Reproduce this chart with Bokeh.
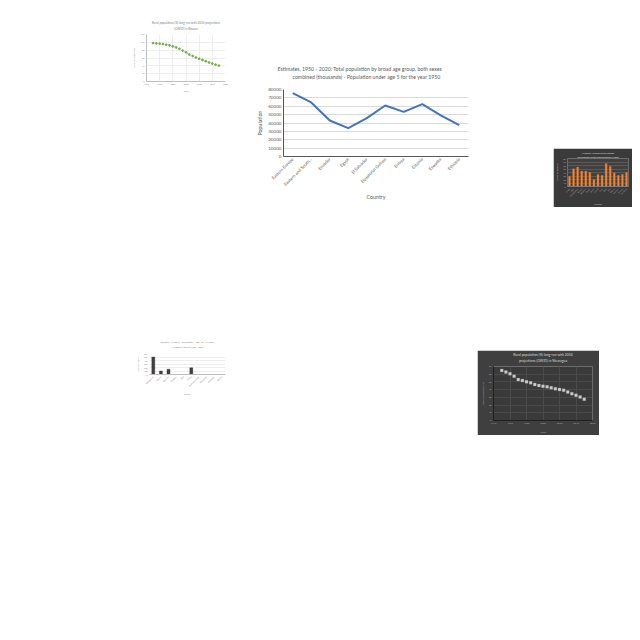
import math
from bokeh.plotting import figure
from bokeh.layouts import row, column
from bokeh.models import Spacer, Title, FixedTicker, Range1d
from bokeh.embed import file_html
from bokeh.resources import INLINE

FONT = "Lato"

# ---- main chart data ----
countries = ["Eastern Europe", "Eastern and South...", "Ecuador", "Egypt", "El Salvador",
             "Equatorial Guinea", "Eritrea", "Estonia", "Eswatini", "Ethiopia"]
population = [75600, 64500, 43000, 33800, 45800, 60900, 53300, 62500, 49000, 37400]
pop_ticks = [0, 10000, 20000, 30000, 40000, 50000, 60000, 70000, 80000]

# ---- Bhutan rural population ----
bhutan_years = [1950, 1955, 1960, 1965, 1970, 1975, 1980, 1985, 1990, 1995, 2000,
                2005, 2010, 2015, 2020, 2025, 2030, 2035, 2040, 2045, 2050]
bhutan_rural = [97.9, 97.3, 96.6, 95.6, 93.9, 92.3, 89.7, 87.0, 83.5, 79.0, 74.6,
                69.0, 65.2, 61.1, 58.2, 55.0, 51.7, 48.6, 45.8, 43.1, 40.6]
year_ticks = [1940, 1960, 1980, 2000, 2020, 2040, 2060]
bhutan_yticks = [0, 20, 40, 60, 80, 100, 120]

# ---- Air quality bars ----
aq_counties = ["Adams", "Allen", "Bartholomew", "Benton", "Blackford", "Boone", "Brown",
               "Carroll", "Cass", "Clark", "Clay", "Clinton", "Crawford", "Daviess", "Dearborn"]
aq_values = [29, 51, 56, 44, 44, 41, 20, 35, 32, 66, 58, 39, 32, 35, 41]
aq_ticks = [0, 10, 20, 30, 40, 50, 60, 70, 80]

# ---- Malaria deaths bars ----
mal_countries = ["Madagascar", "Malawi", "Malaysia", "Maldives", "Mali", "Malta",
                 "Marshall Islands", "Mauritania", "Mauritius", "Mexico"]
mal_deaths = [497, 103, 152, 0, 0, 193, 0, 0, 0, 0]
mal_ticks = [0, 100, 200, 300, 400, 500, 600]

# ---- Nicaragua rural population ----
nic_years = [1950, 1955, 1960, 1965, 1970, 1975, 1980, 1985, 1990, 1995, 2000,
             2005, 2010, 2015, 2020, 2025, 2030, 2035, 2040, 2045, 2050]
nic_rural = [64.9, 62.8, 60.7, 57.3, 53.0, 51.8, 50.1, 48.8, 46.7, 45.4, 44.5,
             43.7, 42.4, 41.2, 40.3, 39.1, 36.9, 34.8, 32.7, 30.5, 27.6]
nic_yticks = [0, 10, 20, 30, 40, 50, 60, 70]


def style_axes(p, color, tick_size, label_size):
    for ax in (p.xaxis[0], p.yaxis[0]):
        ax.major_label_text_font = FONT
        ax.major_label_text_font_size = tick_size
        ax.major_label_text_color = color
        ax.axis_label_text_font = FONT
        ax.axis_label_text_font_size = label_size
        ax.axis_label_text_color = color
        ax.axis_label_text_font_style = "normal"
        ax.major_tick_line_color = None
        ax.minor_tick_line_color = None
        ax.major_tick_out = 0
        ax.major_tick_in = 0
        ax.minor_tick_out = 0
        ax.minor_tick_in = 0
        ax.major_label_standoff = 2
        ax.axis_label_standoff = 2


def add_titles(p, lines, size, color, offsets=None, gap=0, align="center"):
    # lines listed top to bottom; an invisible spacer title sits nearest to the frame
    if gap:
        p.add_layout(Title(text=" ", text_font_size="1px", standoff=gap), "above")
    for i in reversed(range(len(lines))):
        p.add_layout(Title(text=lines[i], align=align, text_font=FONT, text_font_size=size,
                           text_color=color, text_font_style="normal", standoff=0,
                           offset=(offsets[i] if offsets else 0)), "above")


# ================= main chart =================
pm = figure(width=237, height=148, x_range=countries, y_range=Range1d(0, 80000),
            output_backend="svg", toolbar_location=None, title=None,
            min_border_left=40, min_border_right=12, min_border_top=29, min_border_bottom=52)
pm.line(countries, population, line_color="#4472C4", line_width=2)
pm.yaxis.ticker = FixedTicker(ticks=pop_ticks)
style_axes(pm, "#595959", "4.6px", "5.3px")
pm.xaxis.major_label_text_font_size = "4.3px"
pm.xaxis.major_label_orientation = math.pi / 4
pm.xaxis.axis_label = "Country"
pm.yaxis.axis_label = "Population"
pm.xaxis.axis_line_color = "#595959"
pm.yaxis.axis_line_color = "#595959"
pm.xgrid.grid_line_color = None
pm.ygrid.grid_line_color = "#d9d9d9"
pm.outline_line_color = None
pm.x_range.range_padding = 0
add_titles(pm, ["Estimates, 1950 - 2020: Total population by broad age group, both sexes",
                "combined (thousands) - Population under age 5 for the year 1950"],
           "5.2px", "#595959", offsets=[-6, 9], gap=7, align="left")

# ================= Bhutan =================
p1 = figure(width=102, height=78, x_range=Range1d(1940, 2060), y_range=Range1d(0, 120),
            output_backend="svg", toolbar_location=None, title=None,
            min_border_left=12, min_border_right=7, min_border_top=15, min_border_bottom=15)
p1.line(bhutan_years, bhutan_rural, line_color="#70AD47", line_width=0.8, line_dash="1 2")
p1.scatter(bhutan_years, bhutan_rural, size=1.8, color="#70AD47")
p1.xaxis.ticker = FixedTicker(ticks=year_ticks)
p1.yaxis.ticker = FixedTicker(ticks=bhutan_yticks)
style_axes(p1, "#8c8c8c", "2.2px", "2.2px")
p1.xaxis.axis_label = "Years"
p1.yaxis.axis_label = "Rural population (%)"
p1.xaxis.axis_line_color = "#bfbfbf"
p1.yaxis.axis_line_color = "#bfbfbf"
p1.xgrid.grid_line_color = "#eeeeee"
p1.ygrid.grid_line_color = "#eeeeee"
p1.outline_line_color = None
add_titles(p1, ["Rural population (%) long-run with 2050 projections", "(OWID) in Bhutan"],
           "3px", "#7f7f7f", gap=1)

# ================= Air quality (dark, orange bars) =================
p3 = figure(width=79, height=59, x_range=aq_counties, y_range=Range1d(0, 80),
            output_backend="svg", toolbar_location=None, title=None,
            min_border_left=10, min_border_right=4, min_border_top=10, min_border_bottom=21,
            background_fill_color="#404040", border_fill_color="#3a3a3a")
p3.vbar(x=aq_counties, top=aq_values, width=0.5, fill_color="#F08A3C", line_color="#C55A11",
        line_width=0.3)
p3.yaxis.ticker = FixedTicker(ticks=aq_ticks)
style_axes(p3, "#bfbfbf", "1.8px", "2px")
p3.xaxis.major_label_orientation = math.pi / 4
p3.xaxis.axis_label = "Counties"
p3.yaxis.axis_label = "Number of measures"
p3.xaxis.axis_line_color = "#7f7f7f"
p3.yaxis.axis_line_color = None
p3.xgrid.grid_line_color = None
p3.ygrid.grid_line_color = "#5a5a5a"
p3.outline_line_color = None
add_titles(p3, ["Air quality: Measures on the extreme",
                "environmental health tracking network in 2000"], "2px", "#e0e0e0")

# ================= Malaria deaths =================
p4 = figure(width=102, height=60, x_range=mal_countries, y_range=Range1d(0, 600),
            output_backend="svg", toolbar_location=None, title=None,
            min_border_left=10, min_border_right=10, min_border_top=13, min_border_bottom=18)
p4.vbar(x=mal_countries, top=mal_deaths, width=0.4, fill_color="#404040", line_color="#262626",
        line_width=0.3)
p4.yaxis.ticker = FixedTicker(ticks=mal_ticks)
style_axes(p4, "#8c8c8c", "2px", "2px")
p4.xaxis.major_label_orientation = math.pi / 4
p4.xaxis.axis_label = "Country"
p4.yaxis.axis_label = "Deaths (Number)"
p4.xaxis.axis_line_color = "#bfbfbf"
p4.yaxis.axis_line_color = None
p4.xgrid.grid_line_color = None
p4.ygrid.grid_line_color = "#eeeeee"
p4.outline_line_color = None
add_titles(p4, ["Deaths - Malaria - Sex: Both - Age: 15-49 years",
                "(Number) for the year 1990"], "2.6px", "#7f7f7f", gap=2)

# ================= Nicaragua (dark) =================
p5 = figure(width=122, height=85, x_range=Range1d(1940, 2060), y_range=Range1d(0, 70),
            output_backend="svg", toolbar_location=None, title=None,
            min_border_left=13, min_border_right=7, min_border_top=15, min_border_bottom=15,
            background_fill_color="#3a3a3a", border_fill_color="#3f3f3f")
p5.scatter(nic_years, nic_rural, size=3, marker="square", fill_color="#d0d0d0",
           line_color="#808080", line_width=0.3)
p5.xaxis.ticker = FixedTicker(ticks=year_ticks)
p5.yaxis.ticker = FixedTicker(ticks=nic_yticks)
style_axes(p5, "#a6a6a6", "2.4px", "2.6px")
p5.xaxis.axis_label = "Years"
p5.yaxis.axis_label = "Rural population (%)"
p5.xaxis.axis_line_color = "#1f1f1f"
p5.yaxis.axis_line_color = "#1f1f1f"
p5.xgrid.grid_line_color = "#4a4a4a"
p5.ygrid.grid_line_color = "#4a4a4a"
p5.outline_line_color = None
add_titles(p5, ["Rural population (%) long-run with 2050",
                "projections (OWID) in Nicaragua"], "3.4px", "#d9d9d9", gap=1)

top = row(Spacer(width=130, height=1),
          column(Spacer(width=1, height=18), p1),
          Spacer(width=11, height=1),
          column(Spacer(width=1, height=60), pm),
          Spacer(width=73, height=1),
          column(Spacer(width=1, height=148), p3))
bottom = row(Spacer(width=133, height=1),
             column(Spacer(width=1, height=130), p4),
             Spacer(width=242, height=1),
             column(Spacer(width=1, height=142), p5))
layout = column(top, bottom)

open("out.html", "w").write(file_html(layout, INLINE))
